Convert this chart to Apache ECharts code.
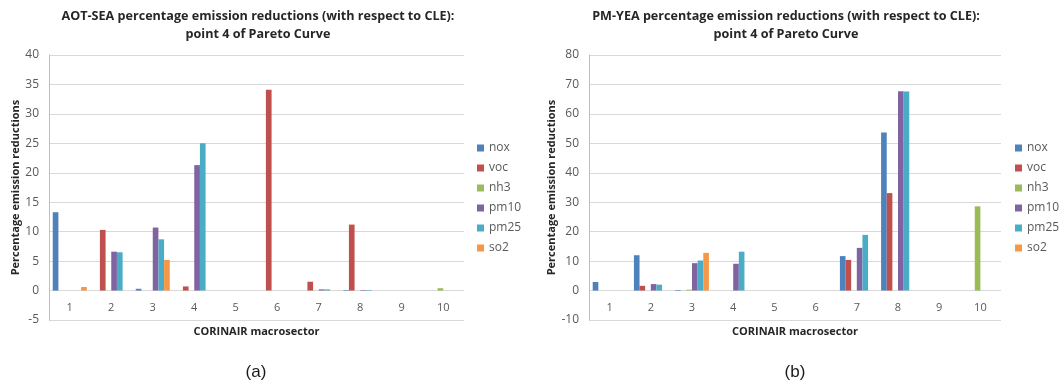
<!DOCTYPE html>
<html>
<head>
<meta charset="utf-8">
<script src="https://cdn.jsdelivr.net/npm/echarts@6/dist/echarts.min.js"></script>
<style>
  html, body { margin: 0; padding: 0; background: #fff; }
  #chart { width: 1059px; height: 387px; }
</style>
</head>
<body>
<div id="chart"></div>
<script>
// CORINAIR macrosectors on the horizontal axis
const categories = ['1', '2', '3', '4', '5', '6', '7', '8', '9', '10'];
const pollutants = ['nox', 'voc', 'nh3', 'pm10', 'pm25', 'so2'];
const colors = ['#4F81BD', '#C0504D', '#9BBB59', '#8064A2', '#4BACC6', '#F79646'];

// (a) AOT-SEA reductions, percent
const aotNox  = [13.3, 0, 0.3, 0, 0, 0, 0, 0.1, 0, 0];
const aotVoc  = [0, 10.3, 0, 0.7, 0, 34.1, 1.5, 11.2, 0, 0];
const aotNh3  = [0, 0, 0, 0, 0, 0, 0, 0, 0, 0.4];
const aotPm10 = [0, 6.6, 10.7, 21.3, 0, 0, 0.2, 0.1, 0, 0];
const aotPm25 = [0, 6.5, 8.7, 25.0, 0, 0, 0.2, 0.1, 0, 0];
const aotSo2  = [0.6, 0, 5.2, 0, 0, 0, 0, 0, 0, 0];

// (b) PM-YEA reductions, percent
const pmNox  = [2.9, 12.0, 0.2, 0, 0, 0, 11.7, 53.7, 0, 0];
const pmVoc  = [0, 1.6, 0, 0, 0, 0, 10.4, 33.1, 0, 0];
const pmNh3  = [0, 0, 0.3, 0, 0, 0, 0, 0, 0, 28.6];
const pmPm10 = [0, 2.2, 9.3, 9.1, 0, 0, 14.5, 67.7, 0, 0];
const pmPm25 = [0, 2.0, 10.2, 13.2, 0, 0, 18.9, 67.6, 0, 0];
const pmSo2  = [0, 0, 12.8, 0, 0, 0, 0, 0, 0, 0];

const aotSeries = [aotNox, aotVoc, aotNh3, aotPm10, aotPm25, aotSo2];
const pmSeries  = [pmNox, pmVoc, pmNh3, pmPm10, pmPm25, pmSo2];

const FONT = '"Open Sans", "Liberation Sans", sans-serif';
const labelColor = '#595959';

function xAxisFor(gridIndex) {
  return {
    type: 'category',
    gridIndex: gridIndex,
    position: 'bottom',
    data: categories,
    name: 'CORINAIR macrosector',
    nameLocation: 'middle',
    nameGap: 0,
    nameTextStyle: { fontFamily: FONT, fontWeight: 'bold', fontSize: 11, color: '#262626' },
    // the bottom gridline stands in for the axis line; labels are pulled
    // up so they sit between the zero line and the lowest gridline
    axisLine: { show: false, onZero: false },
    axisTick: { show: false },
    axisLabel: { fontFamily: FONT, fontSize: 11, color: labelColor, margin: -18 },
    splitLine: { show: false }
  };
}

function yAxisFor(gridIndex, min, max, interval) {
  return {
    type: 'value',
    gridIndex: gridIndex,
    min: min, max: max, interval: interval,
    name: 'Percentage emission reductions',
    nameLocation: 'middle',
    nameRotate: 90,
    nameGap: 26,
    nameTextStyle: { fontFamily: FONT, fontWeight: 'bold', fontSize: 11, color: '#262626' },
    axisLine: { show: true, onZero: false, lineStyle: { color: '#bfbfbf' } },
    axisTick: { show: false },
    axisLabel: { fontFamily: FONT, fontSize: 12, color: labelColor, margin: 10 },
    splitLine: { show: true, lineStyle: { color: '#d9d9d9' } }
  };
}

function barsFor(list, axisIndex) {
  return list.map((values, i) => ({
    name: pollutants[i],
    type: 'bar',
    xAxisIndex: axisIndex,
    yAxisIndex: axisIndex,
    data: values,
    barGap: '0%',
    barCategoryGap: '18%',
    itemStyle: { color: colors[i] },
    emphasis: { disabled: true }
  }));
}

function legendAt(left) {
  return {
    orient: 'vertical',
    left: left,
    top: 137,
    icon: 'rect',
    itemWidth: 7,
    itemHeight: 7,
    itemGap: 8,
    data: pollutants,
    textStyle: { fontFamily: FONT, fontSize: 12, color: labelColor }
  };
}

function titleText(x, lines) {
  return {
    type: 'text',
    x: x,
    y: 7,
    style: {
      text: lines.join('\n'),
      textAlign: 'center',
      fontFamily: FONT,
      fontWeight: 'bold',
      fontSize: 12.6,
      lineHeight: 18,
      fill: '#262626'
    }
  };
}

function caption(x, text) {
  return {
    type: 'text',
    x: x,
    y: 364,
    style: {
      text: text,
      textAlign: 'center',
      fontFamily: '"Liberation Sans", Arial, sans-serif',
      fontSize: 17,
      fill: '#1a1a1a'
    }
  };
}

const chart = echarts.init(document.getElementById('chart'), null, { renderer: 'canvas' });
chart.setOption({
  animation: false,
  backgroundColor: '#ffffff',
  grid: [
    { left: 49, right: 595, top: 55, bottom: 67 },
    { left: 589, right: 58, top: 55, bottom: 67 }
  ],
  xAxis: [xAxisFor(0), xAxisFor(1)],
  yAxis: [yAxisFor(0, -5, 40, 5), yAxisFor(1, -10, 80, 10)],
  legend: [legendAt(472), legendAt(1010)],
  series: barsFor(aotSeries, 0).concat(barsFor(pmSeries, 1)),
  graphic: [
    titleText(258, ['AOT-SEA percentage emission reductions (with respect to CLE):', 'point 4 of Pareto Curve']),
    titleText(786, ['PM-YEA percentage emission reductions (with respect to CLE):', 'point 4 of Pareto Curve']),
    caption(256, '(a)'),
    caption(795, '(b)')
  ]
});
</script>
</body>
</html>
